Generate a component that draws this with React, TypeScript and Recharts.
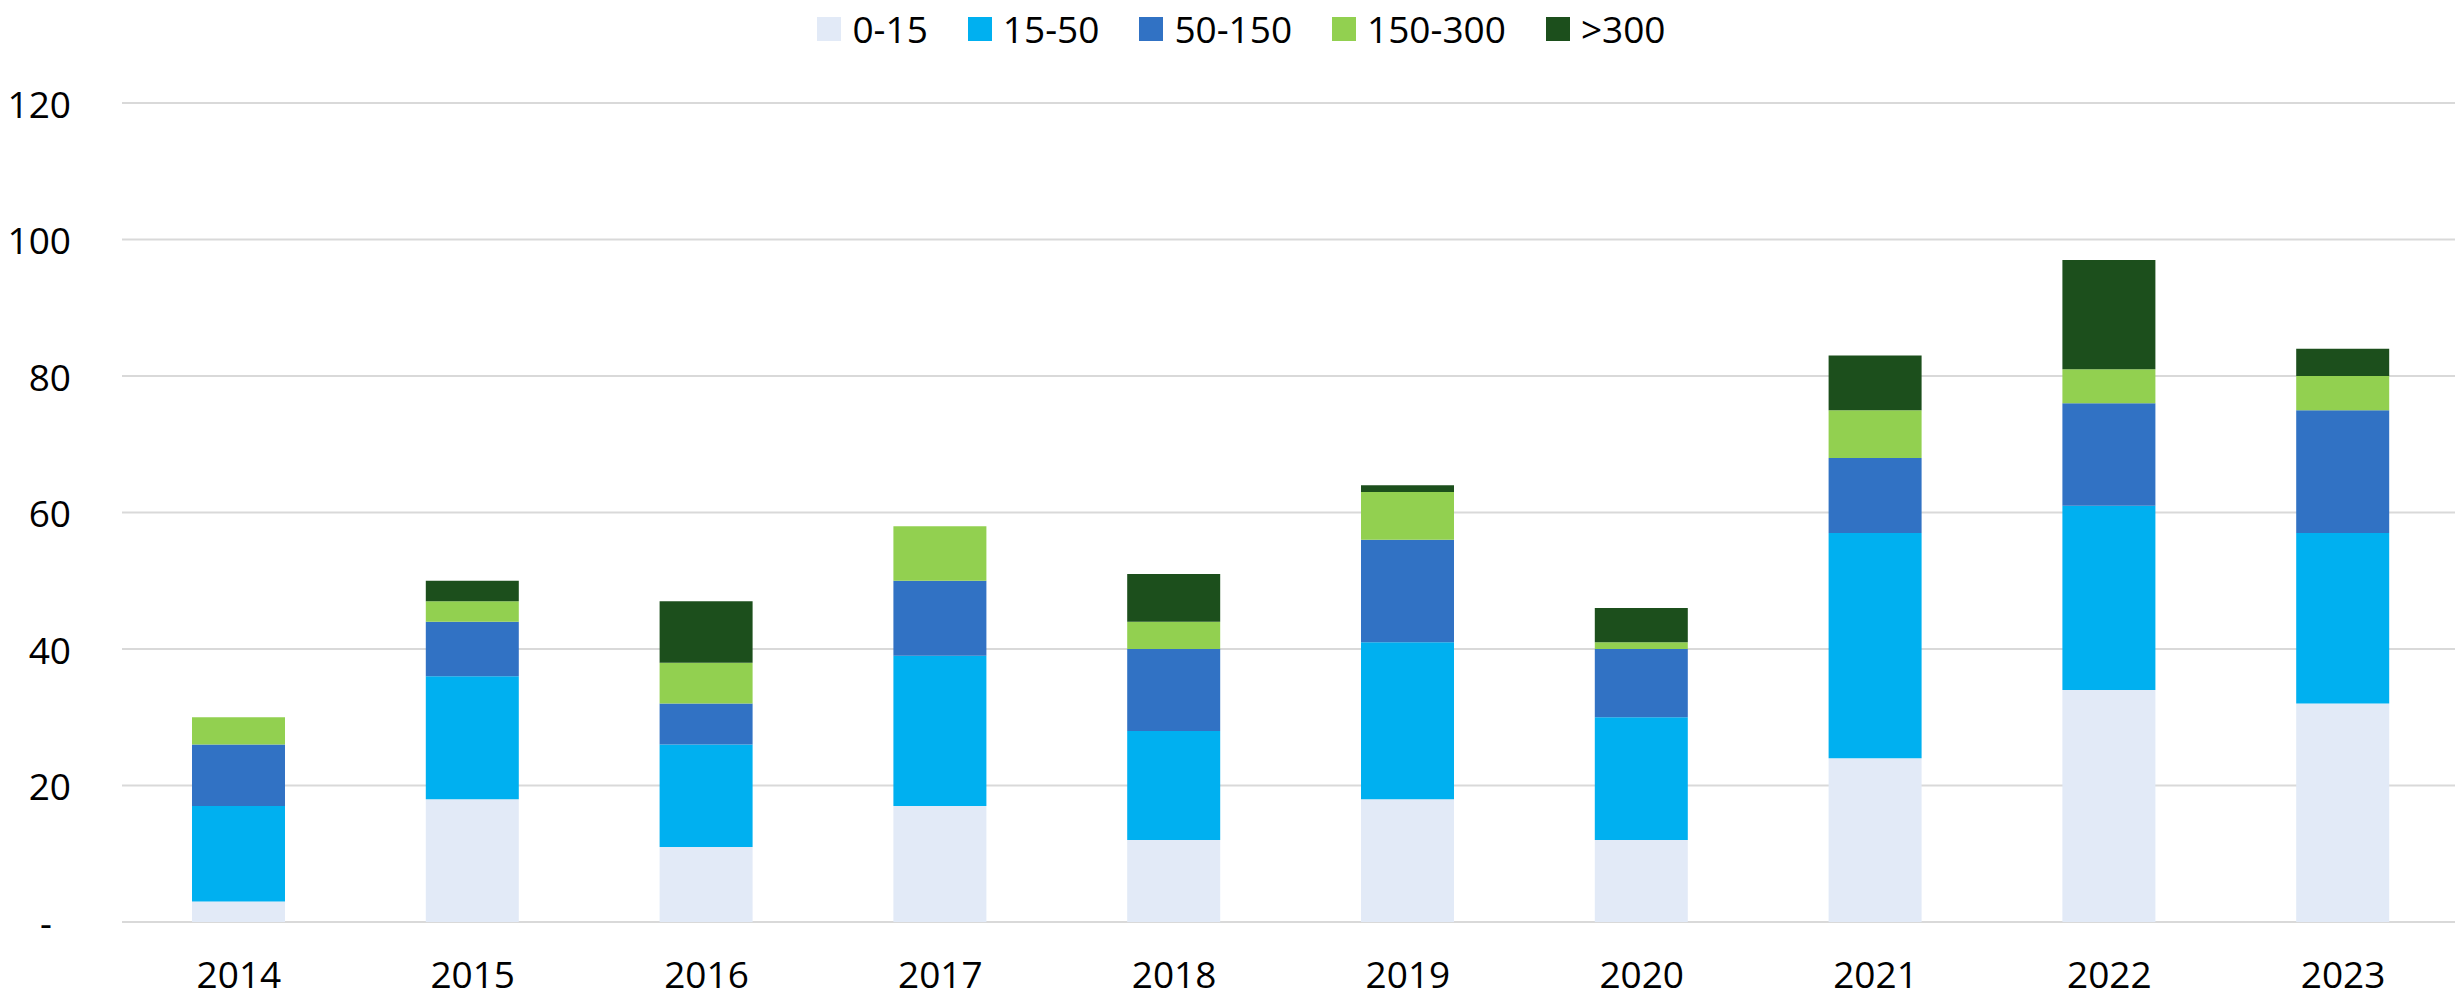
import React from "react";
import { BarChart, Bar, XAxis, YAxis, CartesianGrid, Legend } from "recharts";

const years = ["2014", "2015", "2016", "2017", "2018", "2019", "2020", "2021", "2022", "2023"];
const s0_15 = [3, 18, 11, 17, 12, 18, 12, 24, 34, 32];
const s15_50 = [14, 18, 15, 22, 16, 23, 18, 33, 27, 25];
const s50_150 = [9, 8, 6, 11, 12, 15, 10, 11, 15, 18];
const s150_300 = [4, 3, 6, 8, 4, 7, 1, 7, 5, 5];
const s300 = [0, 3, 9, 0, 7, 1, 5, 8, 16, 4];
const yTicks = [0, 20, 40, 60, 80, 100, 120];

const seriesNames = ["0-15", "15-50", "50-150", "150-300", ">300"];
const seriesKeys = ["a", "b", "c", "d", "e"];
const seriesColors = ["#E2EAF7", "#00B0F0", "#3172C4", "#92D050", "#1C4F1C"];

const data = years.map((y, i) => ({
  year: y,
  a: s0_15[i],
  b: s15_50[i],
  c: s50_150[i],
  d: s150_300[i],
  e: s300[i],
}));

const labelFont = "'Open Sans', sans-serif";

const YTick = (props: any) => {
  const { x, y, payload } = props;
  const isZero = payload.value === 0;
  return (
    <text
      x={isZero ? x - 19 : x}
      y={y}
      textAnchor="end"
      dominantBaseline="central"
      fontFamily={labelFont}
      fontSize={37}
      fill="#000"
    >
      {isZero ? "-" : payload.value}
    </text>
  );
};

const LegendContent = () => (
  <div
    style={{
      display: "flex",
      justifyContent: "center",
      alignItems: "center",
      paddingLeft: 20,
      fontFamily: labelFont,
      fontSize: 37,
      color: "#000",
      lineHeight: "1",
    }}
  >
    {seriesNames.map((n, i) => (
      <div key={n} style={{ display: "flex", alignItems: "center", marginRight: i < 4 ? 40 : 0 }}>
        <div style={{ width: 24, height: 24, background: seriesColors[i], marginRight: 11 }} />
        <span>{n}</span>
      </div>
    ))}
  </div>
);

export default function App() {
  return (
    <div style={{ margin: -8, width: 2463, height: 999, background: "#fff" }}>
      <BarChart
        width={2463}
        height={999}
        data={data}
        margin={{ top: 66, right: 3, left: 0, bottom: 17 }}
        barSize={93}
      >
        <CartesianGrid vertical={false} stroke="#D9D9D9" strokeWidth={2} />
        <XAxis
          dataKey="year"
          axisLine={false}
          tickLine={false}
          tickSize={0}
          tickMargin={40}
          height={60}
          tick={{ fontFamily: labelFont, fontSize: 37, fill: "#000" }}
        />
        <YAxis
          domain={[0, 120]}
          ticks={yTicks}
          width={122}
          axisLine={false}
          tickLine={false}
          tickSize={0}
          tickMargin={51}
          tick={<YTick />}
        />
        <Legend
          verticalAlign="top"
          content={<LegendContent />}
          wrapperStyle={{ top: 10, left: 0, width: 2463 }}
        />
        {seriesKeys.map((k, i) => (
          <Bar
            key={k}
            dataKey={k}
            name={seriesNames[i]}
            stackId="s"
            fill={seriesColors[i]}
            isAnimationActive={false}
          />
        ))}
      </BarChart>
    </div>
  );
}
